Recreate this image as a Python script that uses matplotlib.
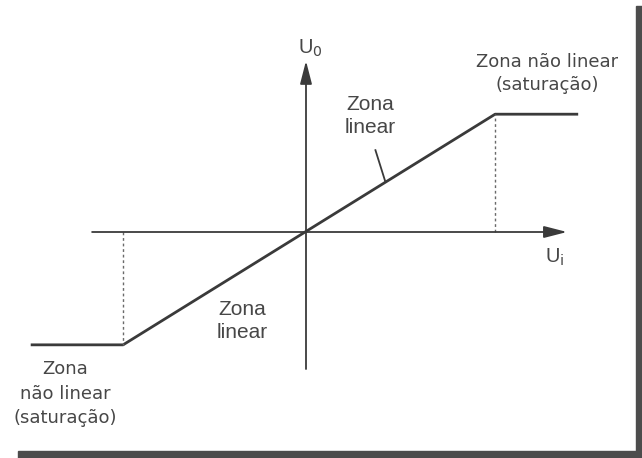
import matplotlib
matplotlib.use("Agg")
import matplotlib.pyplot as plt
from matplotlib.patches import Rectangle

plt.rcParams['font.family'] = ['Liberation Sans', 'DejaVu Sans']

# Transfer characteristic of an amplifier: input Ui vs output Uo
ui_curve = [-4.44, -2.95, 3.05, 4.39]
uo_curve = [-1.82, -1.82, 1.90, 1.90]

# Saturation knees (dashed projections onto the Ui axis)
knee_ui = [-2.95, 3.05]
knee_uo = [-1.82, 1.90]

# Axis extents
ui_axis = [-3.45, 4.21]
uo_axis = [-2.21, 2.76]

ink = '#3a3a3a'
txt = '#474747'

W, H = 642, 458
fig = plt.figure(figsize=(W / 100, H / 100), dpi=100)
fig.patch.set_facecolor('white')
ax = fig.add_axes([0, 0, 1, 1])
scale = 62.0
ox, oy = 306, 232
ax.set_xlim(-ox / scale, (W - ox) / scale)
ax.set_ylim(-(H - oy) / scale, oy / scale)
ax.axis('off')

# Axes with long, narrow arrowheads
arrow = dict(arrowstyle='-|>,head_length=0.7,head_width=0.18', mutation_scale=20,
             color=ink, lw=1.3, shrinkA=0, shrinkB=0)
ax.annotate('', xy=(ui_axis[1], 0), xytext=(ui_axis[0], 0), arrowprops=arrow)
ax.annotate('', xy=(0, uo_axis[1]), xytext=(0, uo_axis[0]), arrowprops=arrow)

# Transfer curve
ax.plot(ui_curve, uo_curve, color=ink, lw=2.0, solid_capstyle='butt')

# Dashed projections
for x, y in zip(knee_ui, knee_uo):
    ax.plot([x, x], [0, y], color='#6a6a6a', lw=1.0, ls=(0, (2, 2)))

# Axis labels
ax.text(-0.13, 2.88, r'U$_0$', color=txt, fontsize=14.5, ha='left', va='baseline')
ax.text(3.85, -0.50, r'U$_\mathrm{i}$', color=txt, fontsize=14.5, ha='left', va='baseline')

# Linear-region labels
fs_lin = 15
ax.text(1.03, 2.21, 'Zona\nlinear', color=txt, fontsize=fs_lin, ha='center', va='top',
        linespacing=1.3)
ax.plot([1.12, 1.28], [1.32, 0.81], color=ink, lw=1.3)
ax.text(-1.03, -1.09, 'Zona\nlinear', color=txt, fontsize=fs_lin, ha='center', va='top',
        linespacing=1.3)

# Saturation-region labels
sat_font = ['DejaVu Sans']
ax.text(3.89, 2.89, 'Zona não linear\n(saturação)', color=txt, fontsize=13,
        family=sat_font, ha='center', va='top', linespacing=1.4)
ax.text(-3.89, -2.07, 'Zona\nnão linear\n(saturação)', color=txt, fontsize=13,
        family=sat_font, ha='center', va='top', linespacing=1.45)

# Page shadow along the right and bottom edges
shadow = '#4c4c4c'
fig.patches.append(Rectangle((636 / W, 0), 6 / W, 1 - 6 / H,
                             transform=fig.transFigure, color=shadow, zorder=0))
fig.patches.append(Rectangle((18 / W, 0), 1 - 18 / W, 7 / H,
                             transform=fig.transFigure, color=shadow, zorder=0))

fig.savefig('out.png', dpi=100, facecolor='white')
